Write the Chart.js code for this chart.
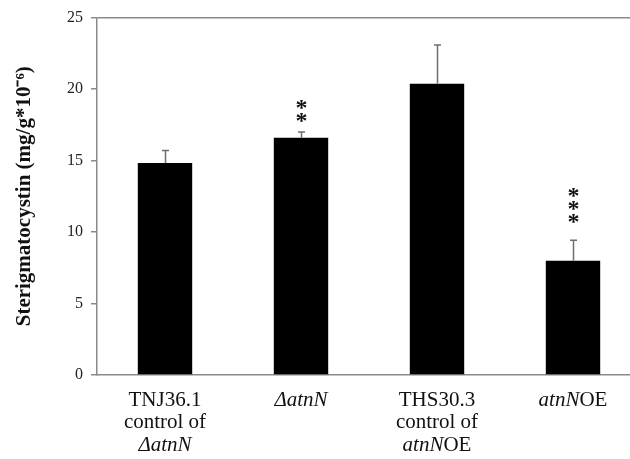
<html lang="en">
<head>
    <meta charset="UTF-8">
    <title>Sterigmatocystin</title>
    <style>
        html, body {
            margin: 0;
            padding: 0;
            background: #fff;
            overflow: hidden;
        }
        .chart-box {
            width: 642px;
            height: 459px;
        }
    </style>
</head>
<body>
    <div class="chart-box">
        <canvas id="stChart" width="642" height="459"></canvas>
    </div>

    <script src="https://cdn.jsdelivr.net/npm/chart.js"></script>
    <script>
        // Values
        const categories = ['TNJ36.1 control of ΔatnN', 'ΔatnN', 'THS30.3 control of atnNOE', 'atnNOE'];
        const means = [14.83, 16.6, 20.37, 8.0];
        const errors = [0.88, 0.4, 2.72, 1.43];
        const stars = ['', '**', '', '***'];
        const starBase = [null, 18.0, null, 10.95]; // y value of the lowest star
        const yTicks = [0, 5, 10, 15, 20, 25];

        // x labels with italic parts: [text, italic]
        const labelLines = [
            [[['TNJ36.1', false]], [['control of', false]], [['ΔatnN', true]]],
            [[['ΔatnN', true]]],
            [[['THS30.3', false]], [['control of', false]], [['atnN', true], ['OE', false]]],
            [[['atnN', true], ['OE', false]]]
        ];

        const serif = '"Liberation Serif", "Times New Roman", serif';

        const extras = {
            id: 'extras',
            afterDatasetsDraw(chart) {
                const ctx = chart.ctx;
                const xs = chart.scales.x;
                const ys = chart.scales.y;
                ctx.save();
                // error bars (upper only)
                ctx.strokeStyle = '#6e6e6e';
                ctx.lineWidth = 1.5;
                means.forEach((m, i) => {
                    const x = Math.round(xs.getPixelForValue(i)) + 0.5;
                    const y0 = ys.getPixelForValue(m);
                    const y1 = ys.getPixelForValue(m + errors[i]);
                    ctx.beginPath();
                    ctx.moveTo(x, y0);
                    ctx.lineTo(x, y1);
                    ctx.moveTo(x - 3.5, y1);
                    ctx.lineTo(x + 3.5, y1);
                    ctx.stroke();

                    // significance stars
                    if (stars[i]) {
                        ctx.fillStyle = '#111';
                        ctx.font = 'bold 24px ' + serif;
                        ctx.textAlign = 'center';
                        ctx.textBaseline = 'middle';
                        const yb = ys.getPixelForValue(starBase[i]);
                        for (let k = 0; k < stars[i].length; k++) {
                            ctx.fillText('*', x, yb + 4 - k * 13);
                        }
                    }
                });

                // category labels
                ctx.fillStyle = '#111';
                ctx.textBaseline = 'middle';
                ctx.textAlign = 'left';
                labelLines.forEach((lines, i) => {
                    const cx = xs.getPixelForValue(i);
                    lines.forEach((segs, li) => {
                        let w = 0;
                        segs.forEach(s => {
                            ctx.font = (s[1] ? 'italic ' : '') + '21px ' + serif;
                            w += ctx.measureText(s[0]).width;
                        });
                        let x = cx - w / 2;
                        const y = 400 + li * 22.5;
                        segs.forEach(s => {
                            ctx.font = (s[1] ? 'italic ' : '') + '21px ' + serif;
                            ctx.fillText(s[0], x, y);
                            x += ctx.measureText(s[0]).width;
                        });
                    });
                });
                ctx.restore();
            }
        };

        const ctx = document.getElementById('stChart').getContext('2d');
        const stChart = new Chart(ctx, {
            type: 'bar',
            data: {
                labels: categories,
                datasets: [{
                    data: means,
                    backgroundColor: '#000',
                    borderWidth: 0,
                    categoryPercentage: 1.0,
                    barPercentage: 0.4
                }]
            },
            options: {
                responsive: false,
                animation: false,
                layout: { padding: { top: 17, right: 1, left: 0, bottom: 0 } },
                plugins: {
                    legend: { display: false },
                    tooltip: { enabled: false }
                },
                scales: {
                    x: {
                        grid: { display: false },
                        border: { display: true, color: '#8a8a8a', width: 1.5 },
                        ticks: { display: false },
                        afterFit(scale) { scale.height = 84; }
                    },
                    y: {
                        min: 0,
                        max: 25,
                        afterBuildTicks(scale) {
                            scale.ticks = yTicks.map(v => ({ value: v }));
                        },
                        afterFit(scale) { scale.width = 97; },
                        grid: {
                            drawOnChartArea: true,
                            color: c => (c.tick && c.tick.value === 25) ? '#8a8a8a' : 'rgba(0,0,0,0)',
                            tickColor: '#8a8a8a',
                            tickLength: 6,
                            lineWidth: 1.5
                        },
                        border: { display: true, color: '#8a8a8a', width: 1.5 },
                        ticks: {
                            color: '#222',
                            padding: 8,
                            font: { family: serif, size: 16 }
                        },
                        title: {
                            display: true,
                            text: 'Sterigmatocystin (mg/g*10⁻⁶)',
                            color: '#111',
                            font: { family: serif, size: 21, weight: 'bold' },
                            padding: { top: 12, bottom: 0 }
                        }
                    }
                }
            },
            plugins: [extras]
        });
    </script>
</body>
</html>
